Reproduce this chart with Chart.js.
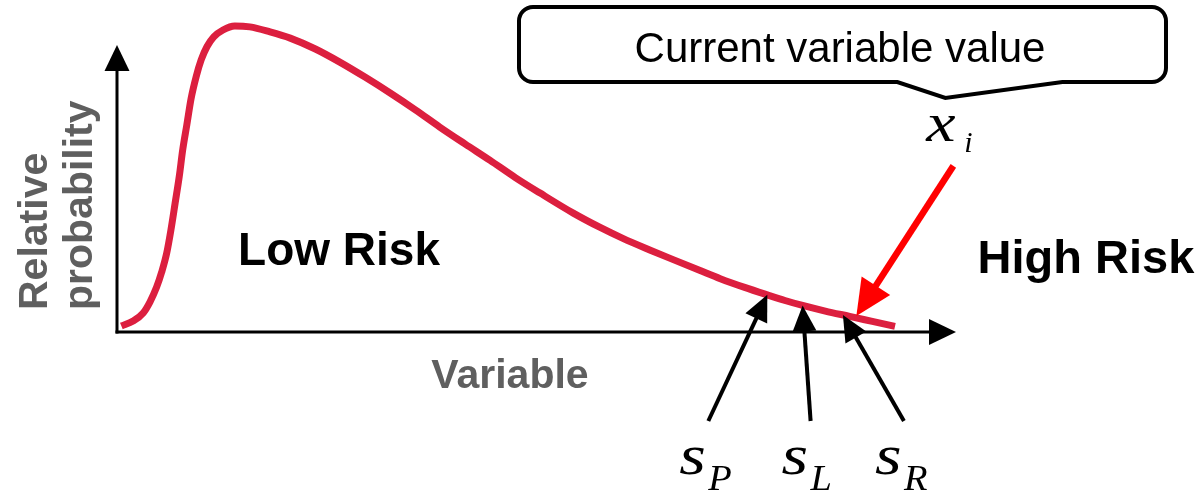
<!DOCTYPE html>
<html>
<head>
<meta charset="utf-8">
<script src="https://cdn.jsdelivr.net/npm/chart.js@4/dist/chart.umd.min.js"></script>
<style>
  html, body { margin: 0; padding: 0; background: #ffffff; }
  canvas { display: block; }
</style>
</head>
<body>
<canvas id="c" width="1204" height="494"></canvas>
<script>
// ---- data ----
const variable = [0.4, 1.8, 3.0, 3.8, 4.6, 5.2, 5.8, 6.3, 6.8, 7.3, 7.7, 8.2, 8.7, 9.3, 9.9, 10.6, 11.4, 12.5, 13.9, 15.7, 18.1, 20.5, 23.5, 26.4, 29.4, 32.4, 35.4, 38.3, 41.3, 44.3, 47.3, 50.2, 54.2, 57.4, 60.1, 63.3, 66.1, 69.3, 71.7, 74.6, 77.3, 79.4, 81.5, 84.2, 87.1, 89.8, 92.5];
const relProb = [1.9, 3.5, 6.1, 9.6, 14.4, 19.2, 25.3, 32.7, 41.3, 50.0, 58.3, 66.5, 74.8, 81.8, 87.2, 91.5, 94.6, 96.8, 98.1, 97.8, 96.2, 94.2, 90.7, 86.5, 81.7, 76.6, 71.2, 65.7, 60.3, 55.0, 49.5, 44.6, 38.1, 33.5, 30.0, 26.3, 23.2, 19.7, 17.1, 14.3, 11.9, 10.1, 8.5, 6.7, 5.0, 3.4, 1.8];
const thresholds = [77.3, 81.5, 86.3];
const thresholdSymbol = 's';
const thresholdSubs = ['P', 'L', 'R'];
const currentValue = 87.9;
const currentSymbol = 'x';
const currentSub = 'i';
const calloutText = 'Current variable value';
const yAxisTitle = ['Relative', 'probability'];
const xAxisTitle = 'Variable';
const regionLabels = ['Low Risk', 'High Risk'];

function curveAt(x) {
  for (let i = 0; i < variable.length - 1; i++) {
    if (x >= variable[i] && x <= variable[i + 1]) {
      const t = (x - variable[i]) / (variable[i + 1] - variable[i]);
      return relProb[i] + t * (relProb[i + 1] - relProb[i]);
    }
  }
  return relProb[relProb.length - 1];
}

function arrow(ctx, x0, y0, x1, y1, color, lw, headLen, headHalf) {
  const ang = Math.atan2(y1 - y0, x1 - x0);
  const c = Math.cos(ang), s = Math.sin(ang);
  const bx = x1 - headLen * c, by = y1 - headLen * s;
  ctx.save();
  ctx.strokeStyle = color;
  ctx.fillStyle = color;
  ctx.lineWidth = lw;
  ctx.lineCap = 'butt';
  ctx.beginPath();
  ctx.moveTo(x0, y0);
  ctx.lineTo(bx + 2 * c, by + 2 * s);
  ctx.stroke();
  ctx.beginPath();
  ctx.moveTo(x1, y1);
  ctx.lineTo(bx + headHalf * s, by - headHalf * c);
  ctx.lineTo(bx - headHalf * s, by + headHalf * c);
  ctx.closePath();
  ctx.fill();
  ctx.restore();
}

function stretchedText(ctx, text, x, y, sx) {
  ctx.save();
  ctx.translate(x, y);
  ctx.scale(sx, 1);
  ctx.fillText(text, 0, 0);
  ctx.restore();
}

const SERIF = '"Liberation Serif", "Times New Roman", serif';
const SANS = '"Liberation Sans", Arial, sans-serif';

const decorPlugin = {
  id: 'decor',
  beforeDatasetsDraw(chart) {
    const ctx = chart.ctx;
    const a = chart.chartArea;
    const x0 = a.left - 1, y0 = a.bottom;
    ctx.save();
    ctx.strokeStyle = '#000';
    ctx.fillStyle = '#000';
    ctx.lineWidth = 3;
    // y axis
    ctx.beginPath();
    ctx.moveTo(x0, y0 + 1.5);
    ctx.lineTo(x0, 68);
    ctx.stroke();
    ctx.beginPath();
    ctx.moveTo(x0, 45);
    ctx.lineTo(x0 - 12.5, 71);
    ctx.lineTo(x0 + 12.5, 71);
    ctx.closePath();
    ctx.fill();
    // x axis
    ctx.beginPath();
    ctx.moveTo(x0 - 1.5, y0);
    ctx.lineTo(931, y0);
    ctx.stroke();
    ctx.beginPath();
    ctx.moveTo(956, y0);
    ctx.lineTo(929, y0 - 13);
    ctx.lineTo(929, y0 + 13);
    ctx.closePath();
    ctx.fill();

    // axis titles
    ctx.fillStyle = '#5f5f5f';
    ctx.font = 'bold 41px ' + SANS;
    ctx.textAlign = 'left';
    ctx.textBaseline = 'alphabetic';
    const ybase = [47, 92];
    yAxisTitle.forEach((t, i) => {
      ctx.save();
      ctx.translate(ybase[i], 310);
      ctx.rotate(-Math.PI / 2);
      ctx.fillText(t, 0, 0);
      ctx.restore();
    });
    ctx.font = 'bold 41px ' + SANS;
    ctx.textAlign = 'center';
    ctx.fillText(xAxisTitle, 510, 388);

    // region labels
    ctx.fillStyle = '#000';
    ctx.font = 'bold 46px ' + SANS;
    ctx.fillText(regionLabels[0], 339, 265);
    ctx.font = 'bold 47px ' + SANS;
    ctx.fillText(regionLabels[1], 1086, 273);
    ctx.restore();
  },
  afterDatasetsDraw(chart) {
    const ctx = chart.ctx;
    const xs = chart.scales.x, ys = chart.scales.y;
    const a = chart.chartArea;

    // threshold arrows + labels
    const dxs = [-59, 8, 61];
    thresholds.forEach((v, i) => {
      const tx = xs.getPixelForValue(v);
      const ty = ys.getPixelForValue(curveAt(v));
      const bx = tx + dxs[i], by = a.bottom + 89;
      arrow(ctx, bx, by, tx, ty, '#000', 4, 26, 12);
      ctx.save();
      ctx.fillStyle = '#000';
      ctx.textAlign = 'left';
      ctx.textBaseline = 'alphabetic';
      ctx.font = 'italic 56px ' + SERIF;
      stretchedText(ctx, thresholdSymbol, bx - 29, a.bottom + 142, 1.22);
      ctx.font = 'italic 35px ' + SERIF;
      stretchedText(ctx, thresholdSubs[i], bx, a.bottom + 158, 1.1);
      ctx.restore();
    });

    // current value arrow
    const cx = xs.getPixelForValue(currentValue);
    const cy = ys.getPixelForValue(curveAt(currentValue)) - 2;
    const tailX = cx + 97, tailY = cy - 150;
    arrow(ctx, tailX, tailY, cx, cy, '#ff0000', 6.5, 36, 17);
    ctx.save();
    ctx.fillStyle = '#000';
    ctx.textAlign = 'left';
    ctx.textBaseline = 'alphabetic';
    ctx.font = 'italic 54px ' + SERIF;
    stretchedText(ctx, currentSymbol, tailX - 27, tailY - 25, 1.22);
    ctx.font = 'italic 30px ' + SERIF;
    ctx.fillText(currentSub, tailX + 11, tailY - 14);
    ctx.restore();

    // callout box
    const L = 519, R = 1166, T = 7, B = 82, r = 14;
    const tipX = tailX - 8, tipY = 98;
    ctx.save();
    ctx.beginPath();
    ctx.moveTo(L + r, T);
    ctx.lineTo(R - r, T);
    ctx.arcTo(R, T, R, T + r, r);
    ctx.lineTo(R, B - r);
    ctx.arcTo(R, B, R - r, B, r);
    ctx.lineTo(tipX + 117, B);
    ctx.lineTo(tipX, tipY);
    ctx.lineTo(tipX - 48, B);
    ctx.lineTo(L + r, B);
    ctx.arcTo(L, B, L, B - r, r);
    ctx.lineTo(L, T + r);
    ctx.arcTo(L, T, L + r, T, r);
    ctx.closePath();
    ctx.fillStyle = '#fff';
    ctx.fill();
    ctx.lineWidth = 4;
    ctx.lineJoin = 'miter';
    ctx.strokeStyle = '#000';
    ctx.stroke();
    ctx.fillStyle = '#000';
    ctx.font = '42px ' + SANS;
    ctx.textAlign = 'center';
    ctx.textBaseline = 'alphabetic';
    ctx.fillText(calloutText, 840, 62);
    ctx.restore();
  }
};

new Chart(document.getElementById('c'), {
  type: 'line',
  data: {
    datasets: [{
      data: variable.map((x, i) => ({ x: x, y: relProb[i] })),
      borderColor: '#DC1F3F',
      borderWidth: 7,
      pointRadius: 0,
      fill: false,
      cubicInterpolationMode: 'monotone',
      clip: false
    }]
  },
  options: {
    responsive: false,
    animation: false,
    events: [],
    layout: { padding: { left: 118, right: 246, top: 20, bottom: 162 } },
    scales: {
      x: { type: 'linear', min: 0, max: 100, display: false },
      y: { type: 'linear', min: 0, max: 100, display: false }
    },
    plugins: {
      legend: { display: false },
      tooltip: { enabled: false },
      title: { display: false }
    }
  },
  plugins: [decorPlugin]
});
</script>
</body>
</html>
